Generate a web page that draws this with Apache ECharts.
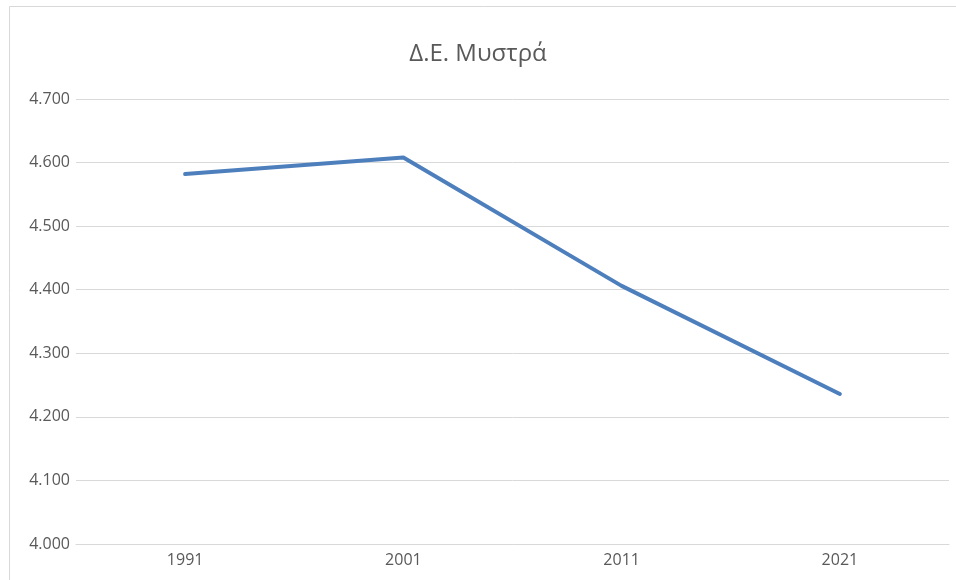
<!DOCTYPE html>
<html><head><meta charset="utf-8">
<script src="https://cdn.jsdelivr.net/npm/echarts@6/dist/echarts.min.js"></script>
<style>html,body{margin:0;padding:0;background:#fff}#c{width:956px;height:580px}</style>
</head><body><div id="c"></div>
<script>
const categories = ['1991', '2001', '2011', '2021'];
const population = [4582, 4608, 4406, 4236];
const titleText = 'Δ.Ε. Μυστρά';

const chart = echarts.init(document.getElementById('c'), null, {renderer: 'canvas'});
const fmt = v => (v / 1000).toFixed(3);
chart.setOption({
  animation: false,
  backgroundColor: '#fff',
  graphic: [{type: 'rect', shape: {x: 9.5, y: 6.5, width: 960, height: 600}, style: {fill: 'none', stroke: '#d9d9d9', lineWidth: 1}}],
  title: {text: titleText, left: 'center', top: 37, textStyle: {fontFamily: 'Open Sans', fontSize: 24, fontWeight: 'normal', color: '#595959'}},
  grid: {left: 76, right: 7, top: 99, bottom: 36, containLabel: false},
  xAxis: {type: 'category', data: categories, boundaryGap: true,
    axisLine: {lineStyle: {color: '#d9d9d9', width: 1}}, axisTick: {show: false},
    axisLabel: {color: '#595959', fontFamily: 'Open Sans', fontSize: 16, margin: 8}},
  yAxis: {type: 'value', min: 4000, max: 4700, interval: 100,
    axisLine: {show: false}, axisTick: {show: false},
    splitLine: {lineStyle: {color: '#d9d9d9', width: 1}},
    axisLabel: {color: '#595959', fontFamily: 'Open Sans', fontSize: 16, margin: 6, formatter: fmt}},
  series: [{type: 'line', data: population, symbol: 'none', lineStyle: {color: '#4e7fbd', width: 4, cap: 'round', join: 'round'}}]
});
</script></body></html>
